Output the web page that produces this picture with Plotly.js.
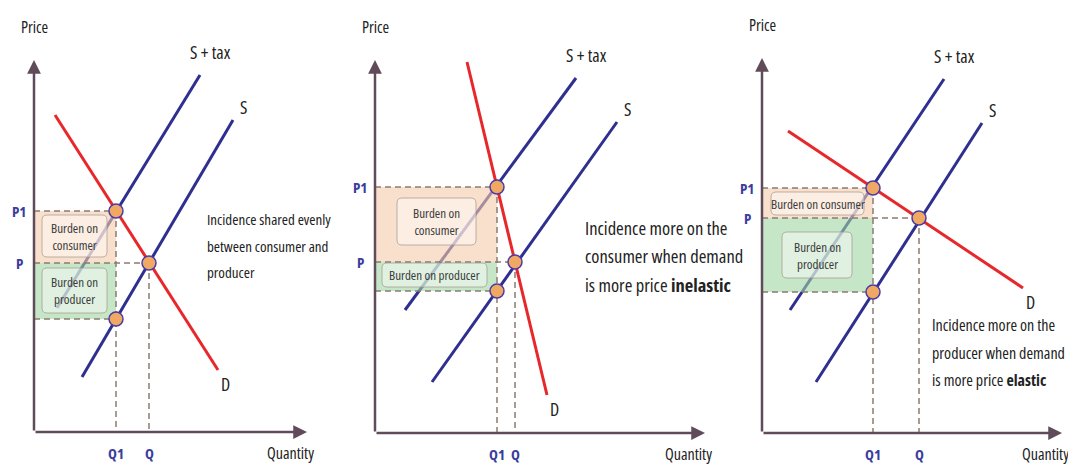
<!DOCTYPE html>
<html><head><meta charset="utf-8">
<script src="https://cdn.plot.ly/plotly-3.0.1.min.js"></script>
<style>
html,body{margin:0;padding:0;background:#fff}
svg text{font-stretch:75% !important;}
</style>
</head><body><div id="chart" style="width:1068px;height:464px"></div>
<script>
// ---- Data (quantity / price units measured from each panel's origin) ----
// Panel 1: incidence shared evenly
const p1DemandX = [21, 184];
const p1DemandY = [317, 62];
const p1SupplyX = [48, 199];
const p1SupplyY = [55, 312];
const p1TaxX = [23, 166];
const p1TaxY = [124, 357];
const p1Prices = [221, 169, 113];      // P1 (consumer price), P (equilibrium), producer net price
const p1Quantities = [82, 115];         // Q1, Q

// Panel 2: inelastic demand
const p2DemandX = [92, 172];
const p2DemandY = [371, 38];
const p2SupplyX = [57, 242];
const p2SupplyY = [51, 311];
const p2TaxX = [30, 201];
const p2TaxY = [123, 355];
const p2Prices = [246, 171, 142];
const p2Quantities = [122, 140];

// Panel 3: elastic demand
const p3DemandX = [26, 261];
const p3DemandY = [302, 145];
const p3SupplyX = [54, 220];
const p3SupplyY = [51, 310];
const p3TaxX = [28, 182];
const p3TaxY = [123, 354];
const p3Prices = [245, 215, 141];
const p3Quantities = [111, 157];

const priceLabels = ['P1', 'P'];
const quantityLabels = ['Q1', 'Q'];
const curveLabels = ['S + tax', 'S', 'D'];
const axisLabels = ['Price', 'Quantity'];
const notes = [
  ['Incidence shared evenly', 'between consumer and', 'producer'],
  ['Incidence more on the', 'consumer when demand', 'is more price <b>inelastic</b>'],
  ['Incidence more on the', 'producer when demand', 'is more price <b>elastic</b>']
];
const burdenConsumer = ['Burden on<br>consumer', 'Burden on<br>consumer', 'Burden on consumer'];
const burdenProducer = ['Burden on<br>producer', 'Burden on producer', 'Burden on<br>producer'];

// ---- Styling / layout ----
const FONT = "'Open Sans', 'DejaVu Sans', sans-serif";
const BLUE = '#2f2f8f';
const RED = '#e8272b';
const AXIS = '#5f4b5a';
const DASH = '#8c7b72';
const LABEL_BLUE = '#3a3d9c';
const TEXT = '#222222';

const panels = [
  {xa:'x', ya:'y', dom:[0, 356/1068], xr:[-34, 322], yr:[-32, 432], xLen:273, yLen:372,
   d:[p1DemandX,p1DemandY], s:[p1SupplyX,p1SupplyY], t:[p1TaxX,p1TaxY], pr:p1Prices, q:p1Quantities,
   noteX:171, noteY:[213,186,160], noteSize:15,
   cBox:[8,73,175,217], pBox:[8,73,119,164]},
  {xa:'x2', ya:'y2', dom:[356/1068, 725/1068], xr:[-19, 350], yr:[-31, 433], xLen:330, yLen:373,
   d:[p2DemandX,p2DemandY], s:[p2SupplyX,p2SupplyY], t:[p2TaxX,p2TaxY], pr:p2Prices, q:p2Quantities,
   noteX:208, noteY:[206,178,149], noteSize:18.5,
   cBox:[22,101,188,235], pBox:[7,112,146,170]},
  {xa:'x3', ya:'y3', dom:[725/1068, 1], xr:[-37, 306], yr:[-31, 433], xLen:300, yLen:375,
   d:[p3DemandX,p3DemandY], s:[p3SupplyX,p3SupplyY], t:[p3TaxX,p3TaxY], pr:p3Prices, q:p3Quantities,
   noteX:168, noteY:[108,80,53], noteSize:16,
   cBox:[9,102,218,241], pBox:[20,90,155,201]}
];

function roundRect(x0, x1, y0, y1, r) {
  return `M${x0+r},${y0} L${x1-r},${y0} Q${x1},${y0} ${x1},${y0+r} L${x1},${y1-r} Q${x1},${y1} ${x1-r},${y1} ` +
         `L${x0+r},${y1} Q${x0},${y1} ${x0},${y1-r} L${x0},${y0+r} Q${x0},${y0} ${x0+r},${y0} Z`;
}

const traces = [];
const annotations = [];
const shapes = [];
const layout = {
  width: 1068, height: 464,
  margin: {l:0, r:0, t:0, b:0},
  paper_bgcolor: '#ffffff', plot_bgcolor: 'rgba(0,0,0,0)',
  showlegend: false,
  font: {family: FONT, color: TEXT}
};

panels.forEach((p, i) => {
  const xk = i === 0 ? 'xaxis' : 'xaxis' + (i+1);
  const yk = i === 0 ? 'yaxis' : 'yaxis' + (i+1);
  layout[xk] = {domain: p.dom, range: p.xr, visible: false, fixedrange: true, anchor: p.ya};
  layout[yk] = {domain: [0, 1], range: p.yr, visible: false, fixedrange: true, anchor: p.xa};

  const [P1, P, Pn] = p.pr;
  const [Q1, Q] = p.q;
  const base = {xaxis: p.xa, yaxis: p.ya, hoverinfo: 'skip', type: 'scatter'};

  // S + tax curve first, so the burden areas tint it
  traces.push({...base, x: p.t[0], y: p.t[1], mode: 'lines', line: {color: BLUE, width: 3}});
  // burden areas
  traces.push({...base, x: [0, Q1, Q1, 0, 0], y: [P, P, P1, P1, P], mode: 'lines', fill: 'toself',
    fillcolor: 'rgba(245,203,170,0.6)', line: {width: 0}});
  traces.push({...base, x: [0, Q1, Q1, 0, 0], y: [Pn, Pn, P, P, Pn], mode: 'lines', fill: 'toself',
    fillcolor: 'rgba(160,213,163,0.6)', line: {width: 0}});
  // S and D
  traces.push({...base, x: p.s[0], y: p.s[1], mode: 'lines', line: {color: BLUE, width: 3}});
  traces.push({...base, x: p.d[0], y: p.d[1], mode: 'lines', line: {color: RED, width: 3}});
  // dashed guides
  traces.push({...base,
    x: [0, Q1, null, 0, Q, null, 0, Q1, null, Q1, Q1, null, Q, Q],
    y: [P1, P1, null, P, P, null, Pn, Pn, null, P1, 0, null, P, 0],
    mode: 'lines', connectgaps: false, line: {color: DASH, width: 1.5, dash: '6px,4px'}});
  // intersection points
  traces.push({...base, x: [Q1, Q, Q1], y: [P1, P, Pn], mode: 'markers',
    marker: {size: 14, color: '#f0a862', line: {color: '#4a3da6', width: 1.5}}});

  // rounded label boxes
  const addBox = (b) => shapes.push({type: 'path', xref: p.xa, yref: p.ya, layer: 'above',
    path: roundRect(b[0], b[1], b[2], b[3], 5),
    fillcolor: 'rgba(255,255,255,0.45)', line: {color: 'rgba(160,150,140,0.7)', width: 1}});
  addBox(p.cBox); addBox(p.pBox);
  const boxText = (b, txt) => annotations.push({xref: p.xa, yref: p.ya, x: (b[0]+b[1])/2, y: (b[2]+b[3])/2,
    text: txt, showarrow: false, font: {size: 13, color: '#3a3a3a'}, align: 'center'});
  boxText(p.cBox, burdenConsumer[i]); boxText(p.pBox, burdenProducer[i]);

  // axes with arrows
  annotations.push({xref: p.xa, yref: p.ya, axref: p.xa, ayref: p.ya, x: p.xLen, y: 0, ax: 0, ay: 0,
    text: '', showarrow: true, arrowhead: 2, arrowsize: 1.1, arrowwidth: 2.5, arrowcolor: AXIS, standoff: 0, startstandoff: 0});
  annotations.push({xref: p.xa, yref: p.ya, axref: p.xa, ayref: p.ya, x: 0, y: p.yLen, ax: 0, ay: 0,
    text: '', showarrow: true, arrowhead: 2, arrowsize: 1.1, arrowwidth: 2.5, arrowcolor: AXIS, standoff: 0, startstandoff: 0});
  annotations.push({xref: p.xa, yref: p.ya, x: 0, y: p.yLen + 33, text: axisLabels[0], showarrow: false,
    font: {size: 16, color: TEXT}});
  annotations.push({xref: p.xa, yref: p.ya, x: p.xLen - 17, y: -21, text: axisLabels[1], showarrow: false,
    font: {size: 16, color: TEXT}});

  // price & quantity labels
  [P1, P].forEach((v, k) => annotations.push({xref: p.xa, yref: p.ya, x: -15, y: v, text: '<b>' + priceLabels[k] + '</b>',
    showarrow: false, font: {size: 15, color: LABEL_BLUE}}));
  [Q1, Q].forEach((v, k) => annotations.push({xref: p.xa, yref: p.ya, x: v, y: -21, text: '<b>' + quantityLabels[k] + '</b>',
    showarrow: false, font: {size: 15, color: LABEL_BLUE}}));

  // curve labels
  annotations.push({xref: p.xa, yref: p.ya, x: p.t[0][1], y: p.t[1][1], xshift: 10, yshift: 23, text: curveLabels[0],
    showarrow: false, font: {size: 18, color: TEXT}});
  annotations.push({xref: p.xa, yref: p.ya, x: p.s[0][1], y: p.s[1][1], xshift: 10, yshift: 13, text: curveLabels[1],
    showarrow: false, font: {size: 18, color: TEXT}});
  annotations.push({xref: p.xa, yref: p.ya, x: p.d[0][1], y: p.d[1][1], xshift: 7, yshift: -14, text: curveLabels[2],
    showarrow: false, font: {size: 18, color: TEXT}});

  // explanatory note
  notes[i].forEach((line, k) => annotations.push({xref: p.xa, yref: p.ya, x: p.noteX, y: p.noteY[k], xanchor: 'left',
    align: 'left', text: line, showarrow: false, font: {size: p.noteSize, color: TEXT}}));
});

layout.annotations = annotations;
layout.shapes = shapes;

Plotly.newPlot('chart', traces, layout, {staticPlot: true, displayModeBar: false});
</script></body></html>
